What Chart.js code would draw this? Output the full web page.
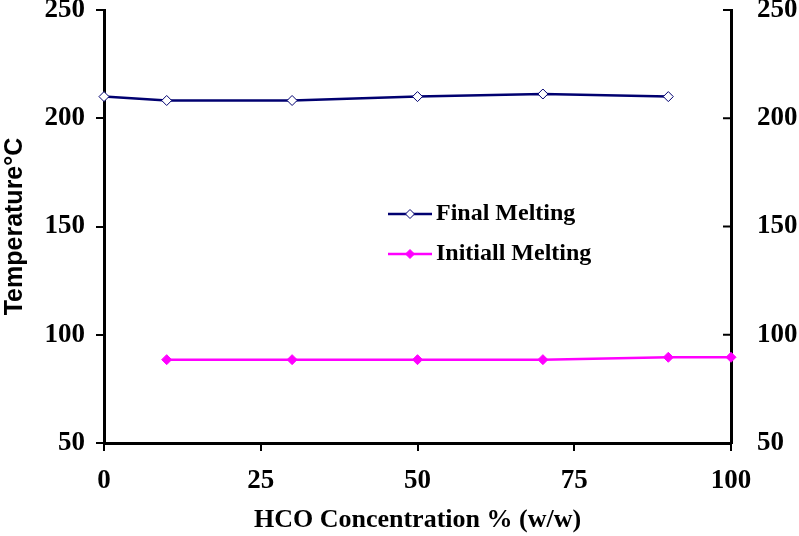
<!DOCTYPE html>
<html>
<head>
<meta charset="utf-8">
<script src="https://cdn.jsdelivr.net/npm/chart.js@4.4.0/dist/chart.umd.min.js"></script>
<style>
  html, body { margin: 0; padding: 0; background: #fff; }
  #wrap { width: 799px; height: 536px; position: relative; }
</style>
</head>
<body>
<div id="wrap"><canvas id="c" width="799" height="536"></canvas></div>
<script>
// data
var finalX = [0, 10, 30, 50, 70, 90]
var finalY = [210, 208.2, 208.2, 210, 211.2, 210]
var initX = [10, 30, 50, 70, 90, 100]
var initY = [88.5, 88.5, 88.5, 88.5, 89.6, 89.6]
var xTicks = [0, 25, 50, 75, 100]
var yTicks = [50, 100, 150, 200, 250]
var seriesNames = ['Final Melting', 'Initiall Melting']

var finalPts = finalX.map(function (x, i) { return { x: x, y: finalY[i] } })
var initPts = initX.map(function (x, i) { return { x: x, y: initY[i] } })

var tickFont = { family: 'Liberation Serif', size: 27, weight: 'bold' }

function noPad(s) { s.paddingTop = 0; s.paddingBottom = 0 }

// inward ticks on the right axis + in-plot legend
const extras = {
  id: 'extras',
  afterDraw(chart) {
    const ctx = chart.ctx
    const ys = chart.scales.y2
    ctx.save()
    ctx.strokeStyle = '#000'
    ctx.lineWidth = 2
    yTicks.forEach(function (v) {
      const py = ys.getPixelForValue(v)
      ctx.beginPath()
      ctx.moveTo(ys.left, py)
      ctx.lineTo(ys.left - 8, py)
      ctx.stroke()
    })
    // legend
    const items = [
      { name: seriesNames[0], color: '#000070', y: 214, fill: '#fff', r: 4.5 },
      { name: seriesNames[1], color: '#ff00ff', y: 254, fill: '#ff00ff', r: 4.5 }
    ]
    items.forEach(function (it) {
      ctx.strokeStyle = it.color
      ctx.lineWidth = 2.5
      ctx.beginPath()
      ctx.moveTo(388, it.y)
      ctx.lineTo(432, it.y)
      ctx.stroke()
      ctx.beginPath()
      ctx.moveTo(410, it.y - it.r)
      ctx.lineTo(410 + it.r, it.y)
      ctx.lineTo(410, it.y + it.r)
      ctx.lineTo(410 - it.r, it.y)
      ctx.closePath()
      ctx.fillStyle = it.fill
      ctx.fill()
      ctx.lineWidth = 1
      ctx.stroke()
      ctx.fillStyle = '#000'
      ctx.font = 'bold 24px "Liberation Serif"'
      ctx.textBaseline = 'middle'
      ctx.textAlign = 'left'
      ctx.fillText(it.name, 436, it.y)
    })
    ctx.restore()
  }
}

new Chart(document.getElementById('c'), {
  type: 'line',
  data: {
    datasets: [
      {
        label: seriesNames[0], data: finalPts,
        borderColor: '#000070', borderWidth: 2.5,
        pointStyle: 'rectRot', pointRadius: 5,
        pointBackgroundColor: '#fff', pointBorderColor: '#000070', pointBorderWidth: 1,
        tension: 0, clip: false
      },
      {
        label: seriesNames[1], data: initPts,
        borderColor: '#ff00ff', borderWidth: 2.5,
        pointStyle: 'rectRot', pointRadius: 5,
        pointBackgroundColor: '#ff00ff', pointBorderColor: '#ff00ff', pointBorderWidth: 1,
        tension: 0, clip: false
      }
    ]
  },
  options: {
    responsive: false,
    animation: false,
    layout: { padding: { top: 10, left: 0, right: 0, bottom: 0 } },
    plugins: { legend: { display: false }, tooltip: { enabled: false } },
    scales: {
      x: {
        type: 'linear', min: 0, max: 100,
        afterBuildTicks: function (s) { s.ticks = xTicks.map(function (v) { return { value: v } }) },
        afterFit: function (s) { s.height = 93 },
        border: { color: '#000', width: 3 },
        grid: { drawOnChartArea: false, color: '#000', lineWidth: 2, tickLength: 8 },
        ticks: { color: '#000', font: tickFont, padding: 14, maxRotation: 0 },
        title: { display: true, text: 'HCO Concentration % (w/w)', color: '#000',
          font: { family: 'Liberation Serif', size: 26, weight: 'bold' }, padding: { top: 9, bottom: 0 } }
      },
      y: {
        position: 'left', min: 50, max: 250,
        afterBuildTicks: function (s) { s.ticks = yTicks.map(function (v) { return { value: v } }) },
        afterFit: function (s) { s.width = 104; noPad(s) },
        border: { color: '#000', width: 3 },
        grid: { drawOnChartArea: false, color: '#000', lineWidth: 2, tickLength: 8 },
        ticks: { color: '#000', font: tickFont, padding: 11 },
        title: { display: true, text: 'Temperature°C', color: '#000',
          font: { family: 'Liberation Sans', size: 25, weight: 'bold' }, padding: { top: 0, bottom: 0 } }
      },
      y2: {
        position: 'right', min: 50, max: 250,
        afterBuildTicks: function (s) { s.ticks = yTicks.map(function (v) { return { value: v } }) },
        afterFit: function (s) { s.width = 68; noPad(s) },
        border: { color: '#000', width: 3 },
        grid: { display: false, drawOnChartArea: false },
        ticks: { color: '#000', font: tickFont, padding: 18 }
      }
    }
  },
  plugins: [extras]
})
</script>
</body>
</html>
